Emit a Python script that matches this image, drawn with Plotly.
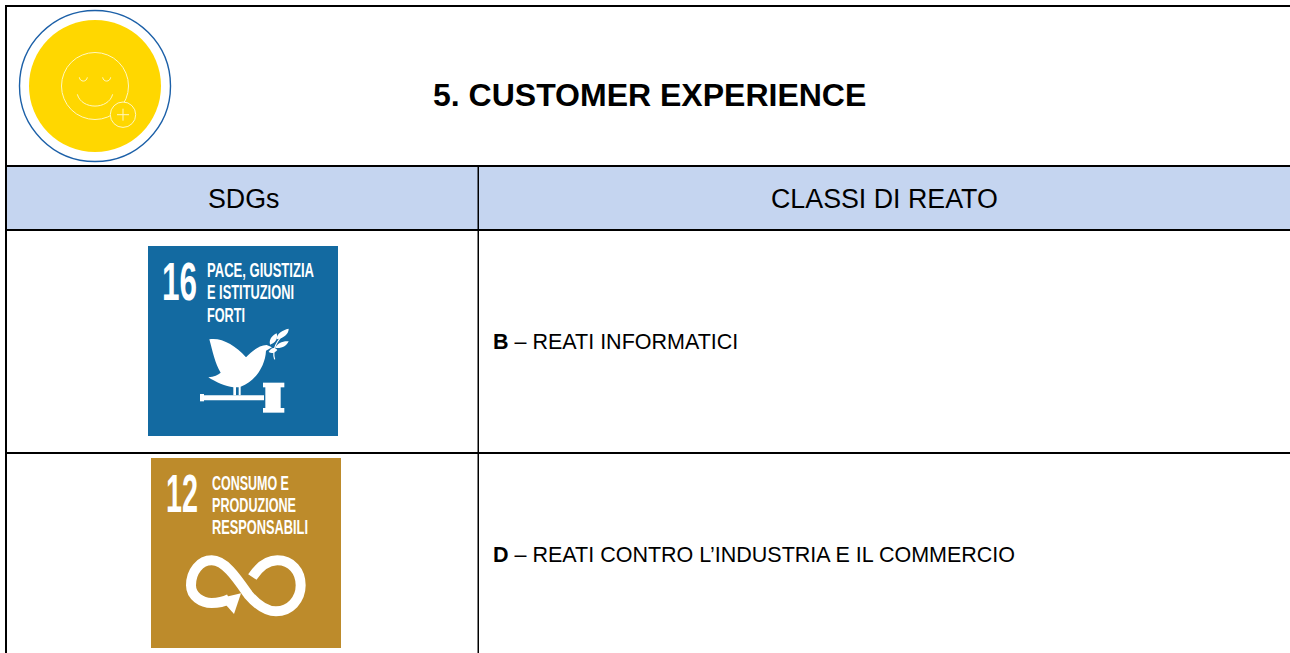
import json
import plotly.graph_objects as go

TITLE = "5. CUSTOMER EXPERIENCE"
HEADERS = ["SDGs", "CLASSI DI REATO"]
CLASS_CODES = ["B", "D"]
CLASS_NAMES = ["REATI INFORMATICI", "REATI CONTRO L’INDUSTRIA E IL COMMERCIO"]
SDG_NUMBERS = ["16", "12"]
SDG_LINES = [["PACE, GIUSTIZIA", "E ISTITUZIONI", "FORTI"],
             ["CONSUMO E", "PRODUZIONE", "RESPONSABILI"]]
SDG_COLORS = ["#136AA1", "#BD8B2B"]

W, H = 1290, 653
BLACK = "#000000"
shapes, notes = [], []
fitted = {}

def rect(x0, y0, x1, y1, fill, line=None, lw=0):
    shapes.append(dict(type="rect", x0=x0, y0=y0, x1=x1, y1=y1, fillcolor=fill,
                       line=dict(color=line or fill, width=lw), layer="above"))

def circle(cx, cy, r, fill="rgba(0,0,0,0)", line="rgba(0,0,0,0)", lw=0):
    shapes.append(dict(type="circle", x0=cx-r, y0=cy-r, x1=cx+r, y1=cy+r, fillcolor=fill,
                       line=dict(color=line, width=lw), layer="above"))

def path(d, fill="rgba(0,0,0,0)", line="rgba(0,0,0,0)", lw=0):
    shapes.append(dict(type="path", path=d, fillcolor=fill,
                       line=dict(color=line, width=lw), layer="above"))

def zpath(d, ox, oy):
    """Path written in 3x crop coordinates: pairs are scaled and moved."""
    out, isx = [], True
    for t in d.split():
        if t.isalpha():
            out.append(t)
        else:
            v = float(t) / 3 + (ox if isx else oy)
            out.append(f"{v:.2f}")
            isx = not isx
    return " ".join(out)

def text(x, y, s, size, color="#000000", anchor="left", family="Liberation Sans", weight=400, width=None):
    n = dict(x=x, y=y, text=s, showarrow=False, xanchor=anchor, yanchor="middle",
             align=anchor, borderpad=0, borderwidth=0,
             font=dict(size=size, color=color, family=family, weight=weight))
    if width:
        n["width"] = width
    notes.append(n)

def fit(x, y, s, size, width):
    """Condensed icon lettering: bold white text squeezed to a measured width."""
    text(x, y, s, size, "#FFFFFF", weight=700, width=width + 1)
    fitted[s] = width

# table fills and rules
rect(7, 167, W + 5, 229, "#C5D5F0")
for y in (6, 166, 230, 453):
    rect(5, y - 1, W + 5, y + 1, BLACK)
rect(5, 5, 7, H + 5, BLACK)
rect(477.5, 166, 479, H + 5, BLACK)

# badge
Y = "#FFD700"; S = "#FFF8C0"
circle(95, 86, 75.5, line="#1C60A8", lw=1.4)
circle(95, 86, 66, fill=Y)
circle(95, 86, 33.5, line=S, lw=1)
path(zpath("M 232 283 C 245 330 325 330 338 283", 0, 0), line=S, lw=1)
path(zpath("M 238 232 C 240 247 260 247 262 232", 0, 0), line=S, lw=1)
path(zpath("M 308 232 C 310 247 330 247 332 232", 0, 0), line=S, lw=1)
circle(123, 114.7, 12.7, fill=Y, line=S, lw=1)
path("M 117 114.7 L 129 114.7 M 123 108.7 L 123 120.7", line=S, lw=1)

# SDG 16 icon
rect(148, 246, 338, 436, SDG_COLORS[0])
dove = ("M 208 298 C 245 292 285 315 318 352 C 335 335 355 316 380 315 L 396 322 L 378 332 "
        "C 376 378 345 425 302 440 L 302 466 L 296 466 L 296 442 L 288 442 L 288 466 L 280 466 L 280 442 "
        "C 258 440 225 425 205 412 C 222 410 235 405 242 398 C 225 370 218 335 208 298 Z")
path(zpath(dove, 140, 240), fill="#FFFFFF")
path(zpath("M 190 473 L 372 473", 140, 240), line="#FFFFFF", lw=5)
path(zpath("M 180 462 L 192 462 L 192 484 L 180 484 Z", 140, 240), fill="#FFFFFF")
for d in ("M 376 440 L 422 440 L 422 506 L 376 506 Z",
          "M 369 428 L 433 428 L 433 442 L 369 442 Z",
          "M 369 504 L 433 504 L 433 518 L 369 518 Z"):
    path(zpath(d, 140, 240), fill="#FFFFFF")
path(zpath("M 404 358 C 395 330 410 300 442 272", 140, 240), line="#FFFFFF", lw=1.2)
for d in ("M 390 314 C 386 296 398 286 410 280 C 414 295 408 308 390 314 Z",
          "M 410 298 C 408 282 428 270 446 266 C 446 282 432 294 410 298 Z",
          "M 406 324 C 410 310 430 302 446 304 C 440 318 426 326 406 324 Z",
          "M 386 336 C 393 324 402 320 412 330 C 404 340 395 342 386 336 Z"):
    path(zpath(d, 140, 240), fill="#FFFFFF")

# SDG 12 icon
rect(151, 458, 341, 648, SDG_COLORS[1])
inf = ("M 337 372 C 365 330 395 322 412 322 C 455 322 482 355 482 397 C 482 440 450 475 408 475 "
       "C 380 475 355 460 325 425 C 290 375 255 322 215 322 C 180 322 153 355 153 397 "
       "C 153 430 185 450 215 450 C 235 450 250 447 268 438")
path(zpath(inf, 140, 453), line="#FFFFFF", lw=10)
path(zpath("M 303 421 L 240 436 L 282 483 Z", 140, 453), fill="#FFFFFF")

# SDG icon labels
fit(161.7, 281.7, SDG_NUMBERS[0], 53, 35)
for s, y, w in zip(SDG_LINES[0], (270, 292, 315), (107, 87, 38)):
    fit(206.7, y, s, 19.5, w)
fit(166, 493, SDG_NUMBERS[1], 53, 32)
for s, y, w in zip(SDG_LINES[1], (483, 505, 527), (77, 84, 96)):
    fit(211.7, y, s, 19.5, w)

# table text
text(649, 95, f"<b>{TITLE}</b>", 32, anchor="center")
text(243, 199, HEADERS[0], 26.8, anchor="center")
text(884.5, 199, HEADERS[1], 26.8, anchor="center")
for y, code, name in zip((342, 555), CLASS_CODES, CLASS_NAMES):
    text(493, y, f"<b>{code}</b> – {name}", 21.5)

fig = go.Figure()
fig.update_layout(
    width=W, height=H, margin=dict(l=0, r=0, t=0, b=0), autosize=False,
    paper_bgcolor="#FFFFFF", plot_bgcolor="#FFFFFF", showlegend=False,
    xaxis=dict(range=[0, W], visible=False, fixedrange=True),
    yaxis=dict(range=[H, 0], visible=False, fixedrange=True),
    shapes=shapes, annotations=notes,
)
post = """
document.documentElement.style.overflow='hidden';
document.body.style.margin='0';
var fit=%s;
document.querySelectorAll('text.annotation-text').forEach(function(t){
  var w=fit[t.textContent];
  if(w){
    var x=parseFloat(t.getAttribute('x'))||0, k=w/t.getComputedTextLength();
    t.removeAttribute('clip-path');t.style.clipPath='none';
    t.setAttribute('transform','translate('+x+',0) scale('+k+',1) translate('+(-x)+',0)');
  }
});
""" % json.dumps(fitted)
fig.write_html("out.html", config=dict(displayModeBar=False), include_plotlyjs=True, post_script=post)
